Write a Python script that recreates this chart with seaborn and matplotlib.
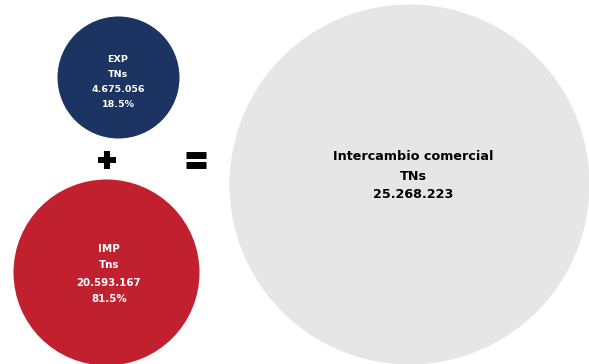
import matplotlib
matplotlib.use("Agg")
import matplotlib.pyplot as plt
import seaborn as sns
import pandas as pd

# values shown on the chart
labels = ["EXP", "IMP", "Intercambio comercial"]
units = ["TNs", "Tns", "TNs"]
tonnes = ["4.675.056", "20.593.167", "25.268.223"]
shares = ["18.5%", "81.5%", ""]
colors = ["#1b3462", "#c1202e", "#e6e6e6"]
text_colors = ["white", "white", "black"]

# layout in pixel coordinates (figure is 589x364 px at dpi 100)
cx = [118, 106, 409]
cy = [77, 272, 184]
radius = [61, 93, 180]
text_x = [118, 109, 413]
text_y = [82, 274, 176]
font_sizes = [6.8, 7.4, 9.2]
line_gap = [15, 17, 19]

sns.set_theme(style="white")
plt.rcParams['font.family'] = ['DejaVu Sans']

fig = plt.figure(figsize=(5.89, 3.64), dpi=100)
ax = fig.add_axes([0, 0, 1, 1])
ax.set_xlim(0, 589)
ax.set_ylim(364, 0)
ax.set_axis_off()

df = pd.DataFrame({"label": labels, "x": cx, "y": cy, "r": radius})
# marker size in points^2: diameter px * 0.72 pt/px
for i, row in df.iterrows():
    sns.scatterplot(x=[row["x"]], y=[row["y"]], s=(2 * row["r"] * 0.72) ** 2,
                    color=colors[i], linewidth=0, ax=ax, zorder=1)

for i in range(len(labels)):
    lines = [labels[i], units[i], tonnes[i]]
    if shares[i]:
        lines.append(shares[i])
    n = len(lines)
    for j, t in enumerate(lines):
        y = text_y[i] + (j - (n - 1) / 2) * line_gap[i]
        ax.text(text_x[i], y, t, ha="center", va="center", color=text_colors[i],
                fontsize=font_sizes[i], fontweight="heavy", zorder=3)

# plus and equals signs
sns.scatterplot(x=[107], y=[160], marker="P", s=170, color="black", linewidth=0, ax=ax, zorder=2)
sns.scatterplot(x=[196, 196], y=[155, 165], marker="_", s=190, color="black", linewidth=5, ax=ax, zorder=2)

fig.savefig("out.png", dpi=100)
